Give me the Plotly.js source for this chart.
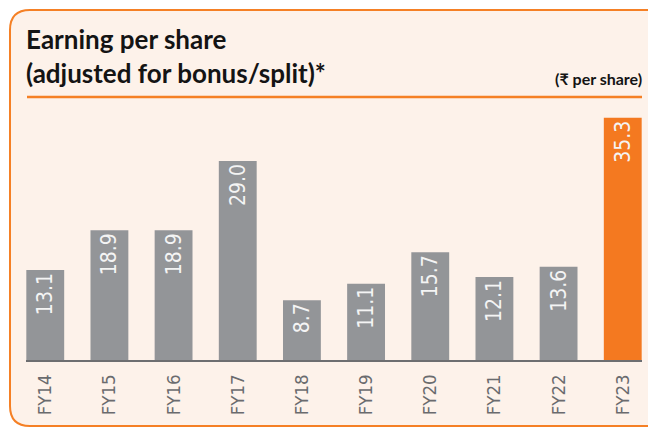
<!DOCTYPE html>
<html>
<head>
<meta charset="utf-8">
<script src="https://cdn.plot.ly/plotly-3.0.1.min.js"></script>
<style>
html,body{margin:0;padding:0;background:#ffffff;}
#chart{width:648px;height:428px;}
</style>
</head>
<body>
<div id="chart"></div>
<script>
const categories = ["FY14","FY15","FY16","FY17","FY18","FY19","FY20","FY21","FY22","FY23"];
const eps = [13.1, 18.9, 18.9, 29.0, 8.7, 11.1, 15.7, 12.1, 13.6, 35.3];
const valueLabels = ["13.1","18.9","18.9","29.0","8.7","11.1","15.7","12.1","13.6","35.3"];
const titleLine1 = "Earning per share";
const titleLine2 = "(adjusted for bonus/split)*";
const unitLabel = "(₹ per share)";

const GREY = "#939598", ORANGE = "#f47920";
const W = 648, H = 428;
const M = {l: 26, r: 6, t: 105, b: 68};
const PW = W - M.l - M.r, PH = H - M.t - M.b;
const px = x => (x - M.l) / PW;
const py = y => (H - M.b - y) / PH;

function roundedRect(x0, y0, x1, y1, r) {
  return "M" + px(x0 + r) + "," + py(y0) +
    " L" + px(x1 - r) + "," + py(y0) +
    " Q" + px(x1) + "," + py(y0) + " " + px(x1) + "," + py(y0 + r) +
    " L" + px(x1) + "," + py(y1 - r) +
    " Q" + px(x1) + "," + py(y1) + " " + px(x1 - r) + "," + py(y1) +
    " L" + px(x0 + r) + "," + py(y1) +
    " Q" + px(x0) + "," + py(y1) + " " + px(x0) + "," + py(y1 - r) +
    " L" + px(x0) + "," + py(y0 + r) +
    " Q" + px(x0) + "," + py(y0) + " " + px(x0 + r) + "," + py(y0) + " Z";
}

const narrow = "'Liberation Sans Narrow', 'DejaVu Sans Condensed', 'Arial Narrow', sans-serif";
const titleFont = "Lato, 'Open Sans', sans-serif";

const trace = {
  type: "bar",
  x: categories,
  y: eps,
  text: valueLabels,
  textposition: "inside",
  insidetextanchor: "end",
  textangle: -90,
  texttemplate: "%{text}",
  insidetextfont: {family: narrow, size: 21, color: "#f4f4f4"},
  marker: {color: categories.map((c, i) => i === categories.length - 1 ? ORANGE : GREY), line: {width: 0}},
  width: 0.59,
  hoverinfo: "none",
  cliponaxis: false
};

const layout = {
  width: W, height: H,
  margin: M,
  paper_bgcolor: "rgba(0,0,0,0)",
  plot_bgcolor: "rgba(0,0,0,0)",
  showlegend: false,
  xaxis: {
    type: "category",
    range: [-0.3, 9.3],
    showline: true, linecolor: "#6d6e71", linewidth: 2,
    showgrid: false, zeroline: false,
    ticks: "outside", ticklen: 5, tickcolor: "rgba(0,0,0,0)",
    tickangle: -90,
    tickfont: {family: narrow, size: 18.5, color: "#6a6b6e"},
    fixedrange: true
  },
  yaxis: {
    range: [0, PH / 6.864],
    visible: false,
    fixedrange: true
  },
  shapes: [
    {type: "path", xref: "paper", yref: "paper", layer: "below",
     path: roundedRect(10, 10, 720, 426, 20),
     fillcolor: "#fdf2ea", line: {color: "#f58025", width: 2}},
    {type: "line", xref: "paper", yref: "paper", layer: "below",
     x0: px(27), x1: px(642), y0: py(97), y1: py(97),
     line: {color: "#f58025", width: 2.5}}
  ],
  annotations: [
    {text: titleLine1, xref: "paper", yref: "paper", x: px(24), y: py(39),
     xanchor: "left", yanchor: "middle", showarrow: false,
     font: {family: titleFont, size: 26, color: "#141414", weight: "bold"}},
    {text: titleLine2, xref: "paper", yref: "paper", x: px(24), y: py(73),
     xanchor: "left", yanchor: "middle", showarrow: false,
     font: {family: titleFont, size: 26, color: "#141414", weight: "bold"}},
    {text: unitLabel, xref: "paper", yref: "paper", x: px(644), y: py(79),
     xanchor: "right", yanchor: "middle", showarrow: false,
     font: {family: titleFont, size: 16, color: "#141414", weight: "bold"}}
  ]
};

Plotly.newPlot("chart", [trace], layout, {displayModeBar: false, staticPlot: true});
</script>
</body>
</html>
